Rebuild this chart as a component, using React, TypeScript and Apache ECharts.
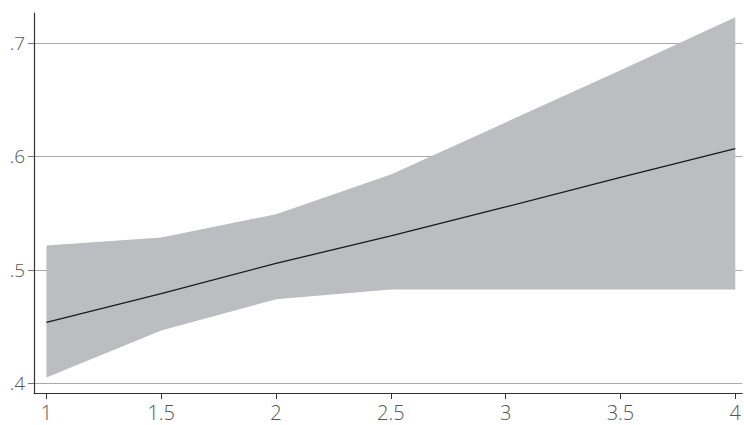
import React, { useEffect, useRef } from "react";
import * as echarts from "echarts";

const xValues = [1, 1.5, 2, 2.5, 3, 3.5, 4];
const upperCI = [0.5215, 0.5286, 0.549, 0.584, 0.630, 0.676, 0.7227];
const lowerCI = [0.405, 0.4465, 0.474, 0.4827, 0.4827, 0.4827, 0.4827];
const fitted = [0.4536, 0.479, 0.5057, 0.530, 0.5555, 0.5815, 0.607];
const xTicks = [1, 1.5, 2, 2.5, 3, 3.5, 4];
const yTicks = [0.4, 0.5, 0.6, 0.7];

export default function App() {
  const ref = useRef<HTMLDivElement>(null);
  useEffect(() => {
    if (!ref.current) return;
    const chart = echarts.init(ref.current, null, { renderer: "svg" });
    const font = "'Open Sans', 'DejaVu Sans', sans-serif";
    chart.setOption({
      animation: false,
      backgroundColor: "#ffffff",
      grid: { left: 34, right: 0, top: 13, bottom: 32, containLabel: false },
      xAxis: {
        type: "value",
        min: 0.946,
        max: 4.03,
        axisLine: { show: true, lineStyle: { color: "#333333", width: 1.2 } },
        axisTick: { show: true, length: 6, customValues: xTicks, lineStyle: { color: "#333333" } },
        axisLabel: {
          customValues: xTicks,
          margin: 9,
          fontFamily: font,
          fontWeight: 300,
          fontSize: 20,
          color: "#555555",
          formatter: (v: number) => String(v),
        },
        splitLine: { show: false },
      },
      yAxis: {
        type: "value",
        min: 0.3914,
        max: 0.7265,
        axisLine: { show: true, lineStyle: { color: "#333333", width: 1.2 } },
        axisTick: { show: true, length: 6, customValues: yTicks, lineStyle: { color: "#777777" } },
        axisLabel: {
          customValues: yTicks,
          margin: 9,
          fontFamily: font,
          fontWeight: 300,
          fontSize: 19,
          color: "#555555",
          formatter: (v: number) => String(Math.round(v * 10) / 10).replace(/^0/, ""),
        },
        splitLine: { show: true, lineStyle: { color: "#aaaaaa", width: 1.2 } },
      },
      series: [
        {
          type: "custom",
          silent: true,
          data: [[0]],
          renderItem: (_params: any, api: any) => {
            const pts: number[][] = [];
            for (let i = 0; i < xValues.length; i++) pts.push(api.coord([xValues[i], upperCI[i]]));
            for (let i = xValues.length - 1; i >= 0; i--) pts.push(api.coord([xValues[i], lowerCI[i]]));
            return {
              type: "polygon",
              shape: { points: pts },
              style: { fill: "#bcbdc1", stroke: "none" },
            };
          },
          z: 2,
        },
        {
          type: "line",
          data: xValues.map((x, i) => [x, fitted[i]]),
          symbol: "none",
          lineStyle: { color: "#1a1a1a", width: 1.3 },
          silent: true,
          z: 3,
        },
      ],
    });
    return () => chart.dispose();
  }, []);
  return (
    <div
      ref={ref}
      style={{ position: "fixed", left: 0, top: 0, width: 744, height: 425 }}
    />
  );
}
